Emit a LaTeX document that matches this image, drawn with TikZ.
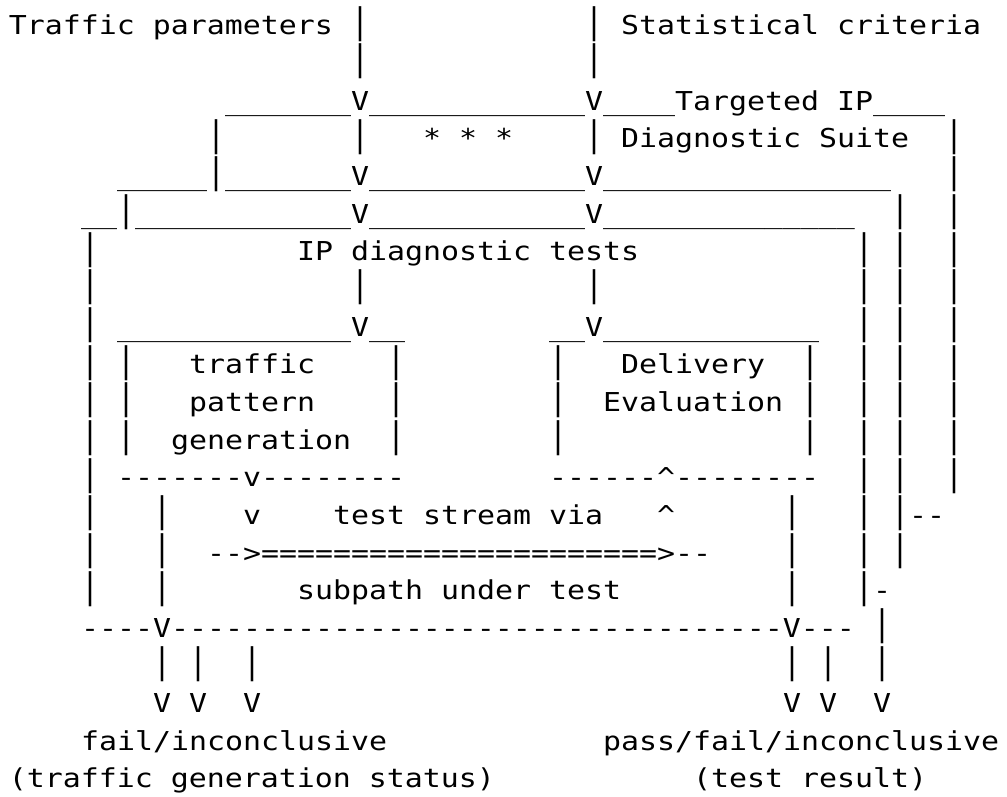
\documentclass[tikz,border=0pt]{standalone}
\usepackage{fontspec}
\usepackage{graphicx}
\setmonofont{DejaVu Sans Mono}
\ExplSyntaxOn
\cs_new:Npn \rpt #1#2 { \prg_replicate:nn {#1} {#2} }
\ExplSyntaxOff
% a hyphen that never joins its neighbour into a dash ligature
\newcommand\hy{-\kern0pt}
\newcommand\us{\_}
\newcommand\up{\textasciicircum}
% a stretched bar glyph, so that bars in successive rows nearly meet
\newcommand\vb{\raisebox{2pt}{\scalebox{1}[1.35]{|}}}
% one row of the figure: monospaced, a little lower than the font's own height
\newcommand\row[1]{\scalebox{1}[0.87]{#1}}

\begin{document}
\begin{tikzpicture}[x=1pt,y=1pt,
  asc/.style={anchor=base west, inner sep=0pt, outer sep=0pt,
    font=\ttfamily\fontsize{29.9}{37.65}\selectfont}]
\useasboundingbox[fill=white] (0,0) rectangle (1007,797);
% one node per text row; rows are 37.65pt apart, columns 18pt wide
\def\colx{9}
\node[asc] (l1)  at (\colx,{797-35-0*37.65})  {\row{Traffic~parameters~\vb\rpt{12}{~}\vb~Statistical~criteria}};
\node[asc] (l2)  at (\colx,{797-35-1*37.65})  {\row{\rpt{19}{~}\vb\rpt{12}{~}\vb}};
\node[asc] (l3)  at (\colx,{797-35-2*37.65})  {\row{\rpt{12}{~}\rpt{7}{\us}V\rpt{12}{\us}V\rpt{4}{\us}Targeted~IP\rpt{4}{\us}}};
\node[asc] (l4)  at (\colx,{797-35-3*37.65})  {\row{\rpt{11}{~}\vb\rpt{7}{~}\vb\rpt{3}{~}*~*~*\rpt{4}{~}\vb~Diagnostic~Suite\rpt{2}{~}\vb}};
\node[asc] (l5)  at (\colx,{797-35-4*37.65})  {\row{\rpt{6}{~}\rpt{5}{\us}\vb\rpt{7}{\us}V\rpt{12}{\us}V\rpt{16}{\us}\rpt{3}{~}\vb}};
\node[asc] (l6)  at (\colx,{797-35-5*37.65})  {\row{\rpt{4}{~}\rpt{2}{\us}\vb\rpt{12}{\us}V\rpt{12}{\us}V\rpt{14}{\us}\rpt{2}{~}\vb\rpt{2}{~}\vb}};
\node[asc] (l7)  at (\colx,{797-35-6*37.65})  {\row{\rpt{4}{~}\vb\rpt{11}{~}IP~diagnostic~tests\rpt{12}{~}\vb~\vb\rpt{2}{~}\vb}};
\node[asc] (l8)  at (\colx,{797-35-7*37.65})  {\row{\rpt{4}{~}\vb\rpt{14}{~}\vb\rpt{12}{~}\vb\rpt{14}{~}\vb~\vb\rpt{2}{~}\vb}};
\node[asc] (l9)  at (\colx,{797-35-8*37.65})  {\row{\rpt{4}{~}\vb~\rpt{13}{\us}V\rpt{2}{\us}\rpt{8}{~}\rpt{2}{\us}V\rpt{12}{\us}\rpt{2}{~}\vb~\vb\rpt{2}{~}\vb}};
\node[asc] (l10) at (\colx,{797-35-9*37.65})  {\row{\rpt{4}{~}\vb~\vb\rpt{3}{~}traffic\rpt{4}{~}\vb\rpt{8}{~}\vb\rpt{3}{~}Delivery\rpt{2}{~}\vb\rpt{2}{~}\vb~\vb\rpt{2}{~}\vb}};
\node[asc] (l11) at (\colx,{797-35-10*37.65}) {\row{\rpt{4}{~}\vb~\vb\rpt{3}{~}pattern\rpt{4}{~}\vb\rpt{8}{~}\vb\rpt{2}{~}Evaluation~\vb\rpt{2}{~}\vb~\vb\rpt{2}{~}\vb}};
\node[asc] (l12) at (\colx,{797-35-11*37.65}) {\row{\rpt{4}{~}\vb~\vb\rpt{2}{~}generation\rpt{2}{~}\vb\rpt{8}{~}\vb\rpt{13}{~}\vb\rpt{2}{~}\vb~\vb\rpt{2}{~}\vb}};
\node[asc] (l13) at (\colx,{797-35-12*37.65}) {\row{\rpt{4}{~}\vb~\rpt{7}{\hy}v\rpt{8}{\hy}\rpt{8}{~}\rpt{6}{\hy}\up\rpt{8}{\hy}\rpt{2}{~}\vb~\vb\rpt{2}{~}\vb}};
\node[asc] (l14) at (\colx,{797-35-13*37.65}) {\row{\rpt{4}{~}\vb\rpt{3}{~}\vb\rpt{4}{~}v\rpt{4}{~}test~stream~via\rpt{3}{~}\up\rpt{6}{~}\vb\rpt{3}{~}\vb~\vb\hy\hy}};
\node[asc] (l15) at (\colx,{797-35-14*37.65}) {\row{\rpt{4}{~}\vb\rpt{3}{~}\vb\rpt{2}{~}\hy\hy>\rpt{22}{=}>\hy\hy\rpt{4}{~}\vb\rpt{3}{~}\vb~\vb}};
\node[asc] (l16) at (\colx,{797-35-15*37.65}) {\row{\rpt{4}{~}\vb\rpt{3}{~}\vb\rpt{7}{~}subpath~under~test\rpt{9}{~}\vb\rpt{3}{~}\vb\hy}};
\node[asc] (l17) at (\colx,{797-35-16*37.65}) {\row{\rpt{4}{~}\rpt{4}{\hy}V\rpt{34}{\hy}V\rpt{3}{\hy}~\vb}};
\node[asc] (l18) at (\colx,{797-35-17*37.65}) {\row{\rpt{8}{~}\vb~\vb\rpt{2}{~}\vb\rpt{29}{~}\vb~\vb\rpt{2}{~}\vb}};
\node[asc] (l19) at (\colx,{797-35-18*37.65}) {\row{\rpt{8}{~}V~V\rpt{2}{~}V\rpt{29}{~}V~V\rpt{2}{~}V}};
\node[asc] (l20) at (\colx,{797-35-19*37.65}) {\row{\rpt{4}{~}fail/inconclusive\rpt{12}{~}pass/fail/inconclusive}};
\node[asc] (l21) at (\colx,{797-35-20*37.65}) {\row{(traffic~generation~status)\rpt{11}{~}(test~result)}};
\end{tikzpicture}
\end{document}
